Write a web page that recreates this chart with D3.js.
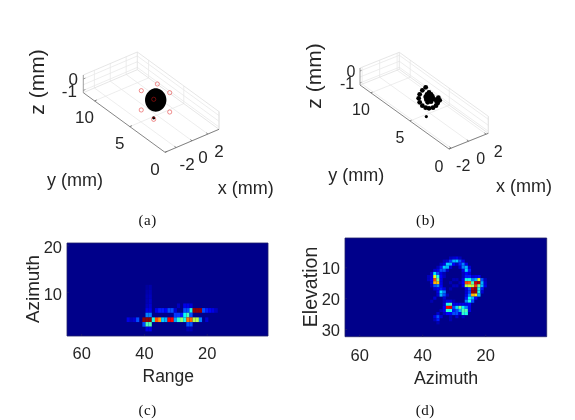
<!DOCTYPE html>
<html>
<head>
<meta charset="utf-8">
<script src="https://cdn.jsdelivr.net/npm/d3@7"></script>
<style>
    html, body { margin: 0; padding: 0; background: #fff; }
    svg { display: block; filter: blur(0.3px); }
    text { font-family: "Liberation Sans", Arial, sans-serif; fill: #262626; }
    .caption { font-family: "Liberation Serif", serif; font-size: 15px; letter-spacing: 0.6px; fill: #111; }
</style>
</head>
<body>
<div id="chart"></div>
<script>
// tick labels
const xTicks3d = [-2, 0, 2];
const yTicks3d = [0, 5, 10];
const zTicks3d = [-1, 0];
const zGrid3d = [-1, -0.5, 0];
const rangeTicks = [60, 40, 20];
const azimuthTicks = [20, 10];
const azimuthTicksX = [60, 40, 20];
const elevationTicks = [10, 20, 30];

// (a) antenna positions, x / y in mm, z = 0
const antennaX = [1.94, 1.98, -0.13, -2.2, -2.17, -0.06, -0.01];
const antennaY = [7.11, 5.4, 3.02, 2.96, 4.76, 7.13, 5.42];

// (a) outline of the solid target, x / y in mm
const targetX = [0.92, 0.17, -0.61, -1.2, -1.46, -1.3, -0.78, -0.03, 0.75, 1.34, 1.6, 1.44];
const targetY = [4.67, 4.03, 3.71, 3.79, 4.27, 5.0, 5.79, 6.43, 6.75, 6.67, 6.19, 5.46];

// the small point under the target
const spotX = -2.03;
const spotY = 3.15;

// (b) reconstructed points, x / y in mm
const reconX = [0.914, 0.362, -0.245, -0.727, -1.064, -1.208, -1.168, -0.991, -0.628, -0.203,
    0.193, 0.613, 0.788, 0.387, 0.256, 0.647, 0.295, 0.589, -0.076, 0.169,
    0.483, -0.3, -0.055, 0.26, -0.475, -0.161];
const reconY = [6.525, 6.334, 5.998, 5.586, 5.082, 4.578, 4.196, 3.968, 3.861, 3.953,
    4.182, 4.396, 4.762, 4.655, 4.38, 5.8, 5.662, 5.479, 5.418, 5.266,
    5.189, 5.082, 4.929, 4.854, 4.716, 4.639];

// (c) non background cells: [range bin, azimuth bin, level]
const rangeAzimuthCells = [
    [38, 11, .04], [39, 11, .03],
    [38, 10, .05], [39, 10, .04],
    [38, 9, .06], [39, 9, .05],
    [38, 8, .07], [39, 8, .05],
    [38, 7, .08], [39, 7, .06], [29, 7, .06], [27, 7, .1], [26, 7, .1], [25, 7, .08],
    [39, 6, .1], [38, 6, .1], [36, 6, .1], [35, 6, .15], [34, 6, .15], [33, 6, .12], [32, 6, .2], [31, 6, .2],
    [30, 6, .08], [27, 6, .2], [26, 6, .2], [25, 6, .4], [24, 6, .98], [23, 6, .98], [22, 6, .98], [21, 6, .2],
    [20, 6, .15], [19, 6, .12], [18, 6, .1], [17, 6, .06],
    [39, 5, .25], [38, 5, .25], [30, 5, .18], [29, 5, .18], [28, 5, .15], [27, 5, .38], [26, 5, .45], [25, 5, .2],
    [45, 4, .1], [44, 4, .06], [43, 4, .08], [42, 4, .2], [40, 4, .98], [39, 4, .98], [38, 4, .98], [37, 4, .4],
    [36, 4, .8], [35, 4, .72], [34, 4, .33], [33, 4, .3], [32, 4, .88], [31, 4, .88], [30, 4, .28], [29, 4, .42],
    [28, 4, .52], [27, 4, .4], [26, 4, .76], [25, 4, .78], [24, 4, .55], [23, 4, .55], [22, 4, .25], [20, 4, .08],
    [40, 3, .2], [39, 3, .45], [38, 3, .45], [26, 3, .2], [25, 3, .2],
    [39, 2, .1], [38, 2, .1], [26, 2, .05], [25, 2, .05]
];

// (d) non background cells: [azimuth bin, elevation bin, level]
const azimuthElevationCells = [
    [31, 7, .06], [30, 7, .08], [29, 7, .1], [28, 7, .06],
    [33, 8, .06], [32, 8, .08], [31, 8, .18], [30, 8, .3], [29, 8, .32], [28, 8, .2], [27, 8, .1],
    [34, 9, .06], [33, 9, .1], [32, 9, .33], [31, 9, .3], [30, 9, .12], [29, 9, .06], [28, 9, .15], [27, 9, .25], [26, 9, .1],
    [35, 10, .06], [34, 10, .15], [33, 10, .33], [32, 10, .3], [31, 10, .08], [28, 10, .08], [27, 10, .25], [26, 10, .3], [25, 10, .08],
    [36, 11, .08], [35, 11, .1], [34, 11, .2], [33, 11, .2], [32, 11, .06], [27, 11, .1], [26, 11, .33], [25, 11, .15],
    [37, 12, .08], [36, 12, .35], [35, 12, .2], [34, 12, .1], [33, 12, .05], [27, 12, .06], [26, 12, .12], [25, 12, .08],
    [38, 13, .06], [37, 13, .1], [36, 13, .6], [35, 13, .4], [34, 13, .12], [33, 13, .06], [27, 13, .06], [26, 13, .15], [25, 13, .15], [24, 13, .08], [23, 13, .1], [22, 13, .12],
    [38, 14, .06], [37, 14, .12], [36, 14, .8], [35, 14, .5], [34, 14, .1], [30, 14, .05], [29, 14, .05], [27, 14, .1], [26, 14, .4], [25, 14, .4], [24, 14, .25], [23, 14, .3], [22, 14, .6], [21, 14, .2], [20, 14, .06],
    [37, 15, .1], [36, 15, .7], [35, 15, .68], [34, 15, .1], [31, 15, .05], [28, 15, .05], [27, 15, .12], [26, 15, .8], [25, 15, .78], [24, 15, .45], [23, 15, .92], [22, 15, .95], [21, 15, .3], [20, 15, .08],
    [37, 16, .06], [36, 16, .2], [35, 16, .25], [34, 16, .12], [30, 16, .06], [29, 16, .06], [27, 16, .1], [26, 16, .55], [25, 16, .6], [24, 16, .55], [23, 16, .82], [22, 16, .5], [21, 16, .3], [20, 16, .1],
    [36, 17, .08], [35, 17, .12], [34, 17, .15], [33, 17, .1], [31, 17, .05], [26, 17, .1], [25, 17, .2], [24, 17, .95], [23, 17, .98], [22, 17, .4], [21, 17, .15],
    [35, 18, .1], [34, 18, .35], [33, 18, .25], [26, 18, .08], [25, 18, .18], [24, 18, .98], [23, 18, .98], [22, 18, .4], [21, 18, .08],
    [35, 19, .08], [34, 19, .3], [33, 19, .2], [32, 19, .06], [26, 19, .1], [25, 19, .25], [24, 19, .7], [23, 19, .65], [22, 19, .3],
    [36, 20, .08], [33, 20, .08], [26, 20, .15], [25, 20, .38], [24, 20, .3], [23, 20, .12],
    [37, 21, .05], [33, 21, .06], [32, 21, .1], [31, 21, .1], [30, 21, .05], [26, 21, .25], [25, 21, .4], [24, 21, .2],
    [33, 22, .08], [32, 22, .4], [31, 22, .45], [30, 22, .1], [29, 22, .1], [28, 22, .1], [27, 22, .1], [26, 22, .1], [25, 22, .12],
    [33, 23, .12], [32, 23, .88], [31, 23, .9], [30, 23, .2], [29, 23, .35], [28, 23, .5], [27, 23, .38], [26, 23, .25], [25, 23, .1],
    [34, 24, .06], [33, 24, .1], [32, 24, .42], [31, 24, .4], [30, 24, .15], [29, 24, .2], [28, 24, .3], [27, 24, .45], [26, 24, .45], [25, 24, .1],
    [35, 25, .08], [33, 25, .06], [32, 25, .12], [31, 25, .12], [30, 25, .2], [29, 25, .2], [28, 25, .1], [27, 25, .42], [26, 25, .4],
    [36, 26, .1], [35, 26, .2], [34, 26, .08], [31, 26, .05], [29, 26, .08], [27, 26, .06],
    [36, 27, .06], [35, 27, .15], [31, 27, .05], [35, 28, .05]
];

const backgroundLevel = 0.01;

let jet = d3.scaleLinear()
    .domain([0, .125, .375, .625, .875, 1])
    .range(["#000080", "#0000ff", "#00ffff", "#ffff00", "#ff0000", "#800000"])
    .clamp(true);

let svg = d3.select("#chart")
    .append("svg")
    .attr("width", 575)
    .attr("height", 420);

let label = (x, y, txt, size, rotate) => {
    let t = svg.append("text")
        .attr("text-anchor", "middle")
        .attr("dominant-baseline", "central")
        .style("font-size", size + "px")
        .text(txt);
    if (rotate) t.attr("transform", "translate(" + x + "," + y + ") rotate(-90)");
    else t.attr("x", x).attr("y", y);
    return t;
};

// orthographic box drawn as in the matlab view
function box3d(o) {
    let xS = d3.scaleLinear().domain(o.xDomain).range([0, 1]);
    let yS = d3.scaleLinear().domain(o.yDomain).range([0, 1]);
    let zS = d3.scaleLinear().domain(o.zDomain).range([0, 1]);
    let project = (x, y, z) => [
        o.origin[0] + xS(x) * o.ex[0] + yS(y) * o.ey[0],
        o.origin[1] + xS(x) * o.ex[1] + yS(y) * o.ey[1] + zS(z) * o.ez
    ];
    let line = d3.line();
    let g = svg.append("g");
    let [x0, x1] = o.xDomain, [y0, y1] = o.yDomain, [z0, z1] = o.zDomain;

    let segment = (pts, color, width) => g.append("path")
        .attr("d", line(pts.map(p => project(p[0], p[1], p[2]))))
        .attr("fill", "none")
        .attr("stroke", color)
        .attr("stroke-width", width);

    let grid = "#e8e8e8";
    xTicks3d.forEach(x => segment([[x, y0, z0], [x, y1, z0], [x, y1, z1]], grid, 0.8));
    yTicks3d.forEach(y => segment([[x0, y, z0], [x1, y, z0], [x1, y, z1]], grid, 0.8));
    zGrid3d.forEach(z => segment([[x0, y1, z], [x1, y1, z], [x1, y0, z]], grid, 0.8));

    segment([[x0, y1, z1], [x1, y1, z1], [x1, y0, z1], [x1, y0, z0], [x1, y1, z0], [x0, y1, z0]], "#e0e0e0", 0.8);
    segment([[x1, y1, z0], [x1, y1, z1]], "#e0e0e0", 0.8);

    // front edges with ticks
    segment([[x0, y0, z0], [x1, y0, z0]], "#666", 0.8);
    segment([[x0, y0, z0], [x0, y1, z0]], "#666", 0.8);
    segment([[x0, y1, z0], [x0, y1, z1]], "#888", 0.8);

    xTicks3d.forEach(x => segment([[x, y0, z0], [x, y0 + (y1 - y0) * .02, z0]], "#666", 0.8));
    yTicks3d.forEach(y => segment([[x0, y, z0], [x0 + (x1 - x0) * .04, y, z0]], "#666", 0.8));
    zTicks3d.forEach(z => segment([[x0, y1, z], [x0 + (x1 - x0) * .04, y1, z]], "#888", 0.8));

    xTicks3d.forEach(x => {
        let p = project(x, y0, z0);
        label(p[0] + o.xOff[0], p[1] + o.xOff[1], x, o.font);
    });
    yTicks3d.forEach(y => {
        let p = project(x0, y, z0);
        label(p[0] + o.yOff[0], p[1] + o.yOff[1], y, o.font);
    });
    zTicks3d.forEach(z => {
        let p = project(x0, y1, z);
        label(p[0] + o.zOff[0] - (z < 0 ? 4 : 0), p[1] + o.zOff[1], z, o.font);
    });
    return {g, project, line};
}

// panel (a)
let a = box3d({
    xDomain: [-3.4, 3.4], yDomain: [0, 11.6], zDomain: [-1.2, 0.35],
    origin: [165, 152.3], ex: [54, -23], ey: [-81.7, -59.6], ez: -17.7,
    xOff: [11, 17], yOff: [-10, 17], zOff: [-10, 1], font: 17
});

a.g.append("path")
    .attr("d", d3.line().curve(d3.curveCardinalClosed)(targetX.map((x, i) => a.project(x, targetY[i], 0))))
    .attr("fill", "#000");

a.g.selectAll("circle.spot")
    .data([[spotX, spotY]])
    .join("circle")
    .attr("class", "spot")
    .attr("cx", d => a.project(d[0], d[1], 0)[0])
    .attr("cy", d => a.project(d[0], d[1], 0)[1])
    .attr("r", 1.6)
    .attr("fill", "#000");

a.g.selectAll("circle.antenna")
    .data(antennaX.map((x, i) => [x, antennaY[i]]))
    .join("circle")
    .attr("class", "antenna")
    .attr("cx", d => a.project(d[0], d[1], 0)[0])
    .attr("cy", d => a.project(d[0], d[1], 0)[1])
    .attr("r", 2.1)
    .attr("fill", "none")
    .attr("stroke", "#e01818")
    .attr("stroke-opacity", 0.6)
    .attr("stroke-width", 0.8);

label(75, 180, "y (mm)", 18);
label(245.7, 187.5, "x (mm)", 18);
label(36.7, 82, "z (mm)", 21, true);
svg.append("text").attr("class", "caption").attr("x", 147.7).attr("y", 225).attr("text-anchor", "middle").text("(a)");

// panel (b)
let b = box3d({
    xDomain: [-2.25, 2.25], yDomain: [0, 11.4], zDomain: [-1.17, 0.25],
    origin: [449, 149], ex: [39.3, -15.7], ey: [-89, -64], ez: -17,
    xOff: [12, 17], yOff: [-10, 17], zOff: [-9, 1], font: 16
});

b.g.selectAll("circle.recon")
    .data(reconX.map((x, i) => [x, reconY[i]]).concat([[spotX, spotY]]))
    .join("circle")
    .attr("class", "recon")
    .attr("cx", d => b.project(d[0], d[1], 0)[0])
    .attr("cy", d => b.project(d[0], d[1], 0)[1])
    .attr("r", d => d[0] === spotX ? 1.6 : 2.4)
    .attr("fill", "#000");

label(356.3, 175, "y (mm)", 18);
label(524, 186, "x (mm)", 18);
label(313, 76, "z (mm)", 21, true);
svg.append("text").attr("class", "caption").attr("x", 425.7).attr("y", 225).attr("text-anchor", "middle").text("(b)");

// heat panels
function heat(o) {
    let x = d3.scaleLinear().domain([64.5, 0.5]).range([o.left, o.right]);
    let y = d3.scaleLinear().domain(o.yDomain).range([o.bottom, o.top]);

    svg.append("rect")
        .attr("x", o.left)
        .attr("y", o.top)
        .attr("width", o.right - o.left)
        .attr("height", o.bottom - o.top)
        .attr("fill", jet(backgroundLevel));

    let cellH = Math.abs(y(1) - y(2));
    svg.append("g")
        .selectAll("rect")
        .data(o.cells)
        .join("rect")
        .attr("x", d => x(d[0] + .5))
        .attr("y", d => Math.min(y(d[1] - .5), y(d[1] + .5)))
        .attr("width", d => x(d[0] - .5) - x(d[0] + .5))
        .attr("height", cellH)
        .attr("fill", d => jet(d[2]));

    let xAxis = svg.append("g")
        .attr("transform", "translate(0," + o.bottom + ")")
        .call(d3.axisBottom(x).tickValues(o.xTicks).tickSize(-2).tickPadding(o.xPad));
    let yAxis = svg.append("g")
        .attr("transform", "translate(" + o.left + ",0)")
        .call(d3.axisLeft(y).tickValues(o.yTicks).tickSize(-2).tickPadding(5));

    [xAxis, yAxis].forEach(ax => {
        ax.selectAll("path, line").attr("stroke", "#20206a").attr("stroke-width", 0.8);
        ax.selectAll("text").style("font-size", "16.5px").style("font-family", "Liberation Sans").attr("fill", "#262626");
    });
    yAxis.selectAll("text").attr("dy", (0.32 + o.yShift / 16.5) + "em");
    xAxis.selectAll("path").attr("d", "M" + o.left + ",0H" + o.right);
    yAxis.selectAll("path").attr("d", "M0," + o.top + "V" + o.bottom);

    svg.append("path")
        .attr("d", "M" + o.left + "," + o.top + "H" + o.right + "V" + o.bottom)
        .attr("fill", "none")
        .attr("stroke", "#20206a")
        .attr("stroke-width", 0.8);
}

heat({
    left: 67, right: 268, top: 243, bottom: 336,
    yDomain: [0.5, 20.5], cells: rangeAzimuthCells,
    xTicks: rangeTicks, yTicks: azimuthTicks, xPad: 11, yShift: 2
});
label(168.3, 375.7, "Range", 17.5);
label(32.7, 289, "Azimuth", 18.8, true);
svg.append("text").attr("class", "caption").attr("x", 147.7).attr("y", 415).attr("text-anchor", "middle").text("(c)");

heat({
    left: 345, right: 546.7, top: 238, bottom: 336.7,
    yDomain: [32.5, 0.5], cells: azimuthElevationCells,
    xTicks: azimuthTicksX, yTicks: elevationTicks, xPad: 13, yShift: 1
});
label(446, 378, "Azimuth", 17.8);
label(310, 287, "Elevation", 19.6, true);
svg.append("text").attr("class", "caption").attr("x", 425.3).attr("y", 415).attr("text-anchor", "middle").text("(d)");
</script>
</body>
</html>
